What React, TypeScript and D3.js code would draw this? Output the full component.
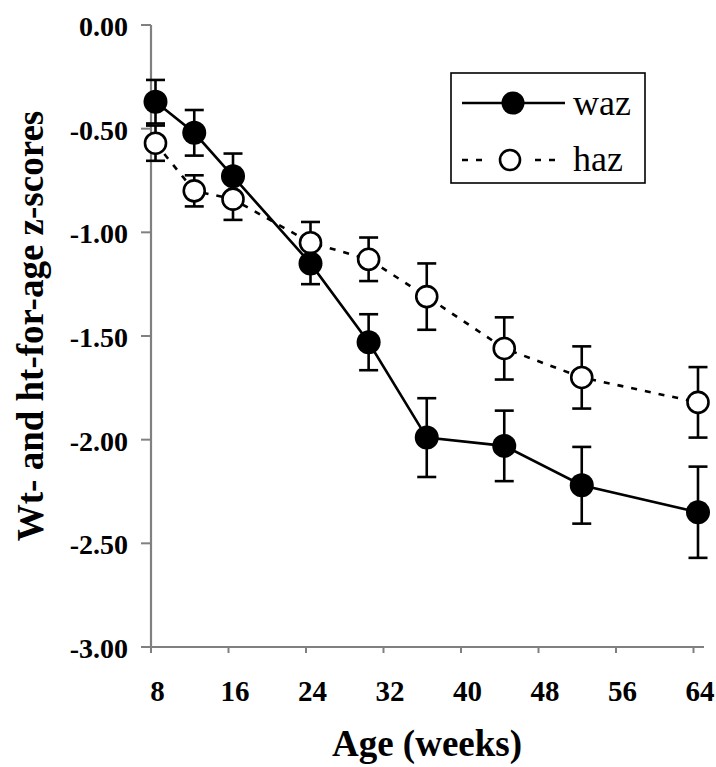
import React from 'react';
import * as d3 from 'd3';

const weeks = [8, 12, 16, 24, 30, 36, 44, 52, 64];
const wazMean = [-0.37, -0.52, -0.73, -1.15, -1.53, -1.99, -2.03, -2.22, -2.35];
const wazErr = [0.105, 0.11, 0.11, 0.1, 0.135, 0.19, 0.17, 0.185, 0.22];
const hazMean = [-0.57, -0.8, -0.84, -1.05, -1.13, -1.31, -1.56, -1.7, -1.82];
const hazErr = [0.085, 0.075, 0.1, 0.1, 0.105, 0.16, 0.15, 0.15, 0.17];
const xTicks = [8, 16, 24, 32, 40, 48, 56, 64];
const yTicks = [0, -0.5, -1, -1.5, -2, -2.5, -3];
const xTitle = 'Age (weeks)';
const yTitle = 'Wt- and ht-for-age z-scores';
const legendLabels = ['waz', 'haz'];

const W = 716;
const H = 767;
const CSS =
  "svg.chart text{font-family:'Liberation Serif','Times New Roman',Tinos,Times !important;}" +
  'svg.chart text.b{font-weight:700;} svg.chart text.r{font-weight:400;}';

export default function App() {
  const x = d3.scaleLinear().domain([8, 64]).range([155.5, 698]);
  const y = d3.scaleLinear().domain([0, -3]).range([25, 647]);
  const line = d3
    .line<number>()
    .x((_, i) => x(weeks[i]))
    .y((d) => y(d));

  const axisColor = '#808080';
  const axisX = 151;
  const axisY = y(-3);
  const fmt = (v: number) => d3.format('.2f')(v).replace('\u2212', '-');

  const errBars = (means: number[], errs: number[], key: string) =>
    means.map((m, i) => {
      const cx = x(weeks[i]);
      const t = y(m + errs[i]);
      const b = y(m - errs[i]);
      return (
        <g key={key + i} stroke="#000" strokeWidth={2.6}>
          <line x1={cx} x2={cx} y1={t} y2={b} />
          <line x1={cx - 9.5} x2={cx + 9.5} y1={t} y2={t} />
          <line x1={cx - 9.5} x2={cx + 9.5} y1={b} y2={b} />
        </g>
      );
    });

  return (
    <svg className="chart" width={W} height={H} style={{ position: 'absolute', left: 0, top: 0 }}>
      <style>{CSS}</style>
      <rect width={W} height={H} fill="#fff" />
      {/* axes */}
      <line x1={axisX} x2={axisX} y1={y(0)} y2={axisY} stroke={axisColor} strokeWidth={2.2} />
      <line x1={141} x2={704} y1={axisY} y2={axisY} stroke={axisColor} strokeWidth={2.2} />
      {yTicks.map((t) => (
        <g key={'yt' + t}>
          <line x1={141} x2={axisX} y1={y(t)} y2={y(t)} stroke={axisColor} strokeWidth={2} />
          <text className="b" x={128} y={y(t) + 11} textAnchor="end" fontFamily="Times New Roman" fontWeight="bold" fontSize={28}>
            {fmt(t)}
          </text>
        </g>
      ))}
      {xTicks.map((t) => (
        <g key={'xt' + t}>
          <line x1={x(t) - 4.5} x2={x(t) - 4.5} y1={axisY} y2={axisY + 6} stroke={axisColor} strokeWidth={2} />
          <text className="b" x={x(t) + 2} y={701} textAnchor="middle" fontFamily="Times New Roman" fontWeight="bold" fontSize={29}>
            {String(t)}
          </text>
        </g>
      ))}
      <text className="b" x={427} y={756} textAnchor="middle" fontFamily="Times New Roman" fontWeight="bold" fontSize={37}>
        {xTitle}
      </text>
      <text
        className="b"
        transform="translate(43, 326) rotate(-90)"
        textAnchor="middle"
        fontFamily="Times New Roman"
        fontWeight="bold"
        fontSize={37}
      >
        {yTitle}
      </text>

      {/* lines */}
      <path d={line(hazMean) || ''} fill="none" stroke="#000" strokeWidth={2.6} strokeDasharray="6 8" />
      <path d={line(wazMean) || ''} fill="none" stroke="#000" strokeWidth={2.6} />

      {/* error bars */}
      {errBars(hazMean, hazErr, 'he')}
      {errBars(wazMean, wazErr, 'we')}

      {/* markers */}
      {hazMean.map((m, i) => (
        <circle key={'hm' + i} cx={x(weeks[i])} cy={y(m)} r={10.5} fill="#fff" stroke="#000" strokeWidth={2.6} />
      ))}
      {wazMean.map((m, i) => (
        <circle key={'wm' + i} cx={x(weeks[i])} cy={y(m)} r={12} fill="#000" />
      ))}

      {/* legend */}
      <rect x={451} y={73} width={194} height={110} fill="#fff" stroke="#000" strokeWidth={1.6} />
      <line x1={462} x2={565} y1={103} y2={103} stroke="#000" strokeWidth={2.6} />
      <circle cx={513} cy={103} r={11.5} fill="#000" />
      <text className="r" x={573} y={115} fontFamily="Times New Roman" fontSize={36}>
        {legendLabels[0]}
      </text>
      <line x1={462} x2={490} y1={160} y2={160} stroke="#000" strokeWidth={2.6} strokeDasharray="6 8" />
      <line x1={535} x2={562} y1={160} y2={160} stroke="#000" strokeWidth={2.6} strokeDasharray="6 8" />
      <circle cx={510} cy={160} r={10} fill="#fff" stroke="#000" strokeWidth={2.6} />
      <text className="r" x={573} y={171} fontFamily="Times New Roman" fontSize={36}>
        {legendLabels[1]}
      </text>
    </svg>
  );
}
